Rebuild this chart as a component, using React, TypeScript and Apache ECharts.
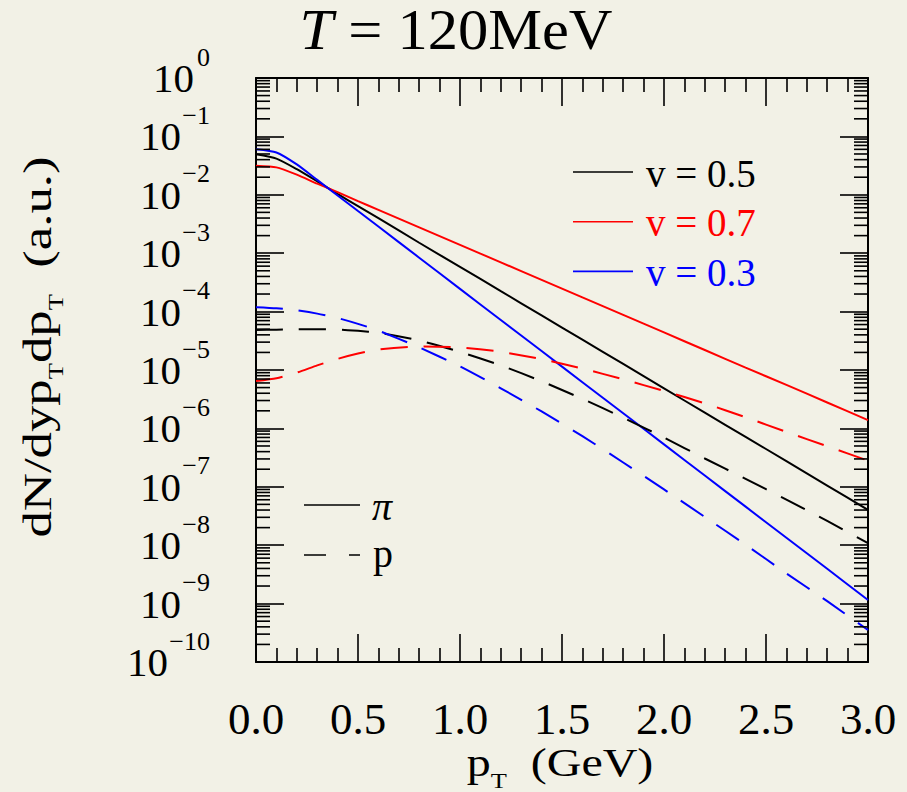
import React, { useEffect, useRef } from "react";
import * as echarts from "echarts";

// transverse momentum grid (GeV)
const pT = [0, 0.1, 0.2, 0.3, 0.4, 0.5, 0.6, 0.8, 1.0, 1.2, 1.4, 1.6, 1.8, 2.0, 2.2, 2.4, 2.6, 2.8, 3.0];

// pions (solid)
const piV05 = [0.0493, 0.0417, 0.0275, 0.0170, 0.01035, 6.41e-3, 3.98e-3, 1.51e-3, 5.85e-4, 2.24e-4, 8.61e-5, 3.31e-5, 1.27e-5, 4.86e-6, 1.86e-6, 7.16e-7, 2.75e-7, 1.05e-7, 4.01e-8];
const piV07 = [0.0315, 0.0295, 0.0221, 0.0155, 0.0111, 7.80e-3, 5.52e-3, 2.77e-3, 1.39e-3, 6.97e-4, 3.49e-4, 1.75e-4, 8.77e-5, 4.40e-5, 2.20e-5, 1.10e-5, 5.55e-6, 2.78e-6, 1.39e-6];
const piV03 = [0.0601, 0.0531, 0.0331, 0.0180, 9.73e-3, 5.27e-3, 2.86e-3, 8.38e-4, 2.45e-4, 7.19e-5, 2.11e-5, 6.18e-6, 1.82e-6, 5.32e-7, 1.56e-7, 4.57e-8, 1.34e-8, 3.94e-9, 1.15e-9];

// protons (dashed)
const pV05 = [4.84e-5, 4.90e-5, 4.96e-5, 4.98e-5, 4.93e-5, 4.68e-5, 4.35e-5, 3.20e-5, 2.04e-5, 1.20e-5, 6.41e-6, 3.20e-6, 1.53e-6, 6.95e-7, 3.05e-7, 1.37e-7, 6.03e-8, 2.60e-8, 1.08e-8];
const pV07 = [6.49e-6, 7.24e-6, 9.02e-6, 1.20e-5, 1.55e-5, 1.91e-5, 2.24e-5, 2.53e-5, 2.43e-5, 2.05e-5, 1.53e-5, 1.06e-5, 6.92e-6, 4.37e-6, 2.69e-6, 1.55e-6, 8.71e-7, 4.95e-7, 2.80e-7];
const pV03 = [1.19e-4, 1.14e-4, 1.05e-4, 9.23e-5, 7.76e-5, 6.17e-5, 4.73e-5, 2.44e-5, 1.15e-5, 4.86e-6, 1.95e-6, 7.36e-7, 2.61e-7, 9.02e-8, 3.05e-8, 1.02e-8, 3.29e-9, 1.10e-9, 3.53e-10];

// axes
const xMin = 0;
const xMax = 3.0;
const xStep = 0.5;
const yDecadeExps = [-10, -9, -8, -7, -6, -5, -4, -3, -2, -1, 0];
const minorMantissas = [2, 3, 4, 5, 6, 7, 8, 9];

const legendV = ["v = 0.5", "v = 0.7", "v = 0.3"];
const legendSpecies = ["π", "p"];

const BG = "#f2f1e6";
const FONT = "'Liberation Serif', 'DejaVu Serif', serif";
const RED = "#ff0000";
const BLUE = "#0000ff";
const BLACK = "#000000";

export default function App() {
  const ref = useRef<HTMLDivElement>(null);

  useEffect(() => {
    if (!ref.current) return;
    const chart = echarts.init(ref.current, undefined, { renderer: "svg" });

    const minorVals: number[][] = [];
    yDecadeExps.slice(0, -1).forEach((e) => {
      minorMantissas.forEach((m) => minorVals.push([0, m * Math.pow(10, e)]));
    });
    const decadeVals = yDecadeExps.map((e) => [0, Math.pow(10, e), e]);

    const mk = (name: string, ys: number[], color: string, dashed: boolean) => ({
      type: "line",
      name,
      data: pT.map((x, i) => [x, ys[i]]),
      symbol: "none",
      showSymbol: false,
      smooth: 0.2,
      silent: true,
      z: 3,
      lineStyle: { color, width: 2, type: dashed ? [27, 16] : "solid" },
    });

    const tickStyle = { color: BLACK, width: 1.6 };

    const xAxisBase = {
      type: "value",
      min: xMin,
      max: xMax,
      interval: xStep,
      axisLine: { show: true, onZero: false, lineStyle: { color: BLACK, width: 2 } },
      axisTick: { show: true, inside: true, length: 28, lineStyle: tickStyle },
      minorTick: { show: true, splitNumber: 5, length: 14, lineStyle: tickStyle },
      splitLine: { show: false },
      minorSplitLine: { show: false },
    };
    const yAxisBase = {
      type: "log",
      logBase: 10,
      min: 1e-10,
      max: 1,
      interval: 1,
      axisLine: { show: true, onZero: false, lineStyle: { color: BLACK, width: 2 } },
      axisTick: { show: true, inside: true, length: 28, lineStyle: tickStyle },
      minorTick: { show: false },
      splitLine: { show: false },
      axisLabel: { show: false },
    };

    const option: any = {
      animation: false,
      backgroundColor: BG,
      grid: { left: 256, right: 39, top: 78, bottom: 130, containLabel: false },
      xAxis: [
        {
          ...xAxisBase,
          position: "bottom",
          axisLabel: {
            show: true,
            margin: 35,
            color: BLACK,
            fontFamily: FONT,
            fontSize: 45,
            lineHeight: 44,
            showMinLabel: true,
            showMaxLabel: true,
            formatter: (v: number) => v.toFixed(1),
          },
        },
        { ...xAxisBase, position: "top", axisLabel: { show: false } },
      ],
      yAxis: [
        { ...yAxisBase, position: "left" },
        { ...yAxisBase, position: "right" },
      ],
      series: [
        mk("pi v=0.5", piV05, BLACK, false),
        mk("pi v=0.7", piV07, RED, false),
        mk("pi v=0.3", piV03, BLUE, false),
        mk("p v=0.5", pV05, BLACK, true),
        mk("p v=0.7", pV07, RED, true),
        mk("p v=0.3", pV03, BLUE, true),
        {
          type: "custom",
          name: "minor log ticks",
          silent: true,
          clip: false,
          z: 5,
          data: minorVals,
          encode: { x: 0, y: 1 },
          renderItem: (params: any, api: any) => {
            const v = api.value(1);
            const l = api.coord([xMin, v]);
            const r = api.coord([xMax, v]);
            return {
              type: "group",
              children: [
                { type: "line", shape: { x1: l[0], y1: l[1], x2: l[0] + 14, y2: l[1] }, style: { stroke: BLACK, lineWidth: 1.6 } },
                { type: "line", shape: { x1: r[0] - 14, y1: r[1], x2: r[0], y2: r[1] }, style: { stroke: BLACK, lineWidth: 1.6 } },
              ],
            };
          },
        },
        {
          type: "custom",
          name: "decade labels",
          silent: true,
          clip: false,
          z: 5,
          data: decadeVals,
          encode: { x: 0, y: 1 },
          renderItem: (params: any, api: any) => {
            const v = api.value(1);
            const e = api.value(2);
            const p = api.coord([xMin, v]);
            const s = e < 0 ? "\u2212" + Math.abs(e) : String(e);
            return {
              type: "group",
              children: [
                {
                  type: "text",
                  x: p[0] - 46,
                  y: p[1] - 21,
                  style: { text: s, fontFamily: FONT, fontSize: 26, fill: BLACK, align: "right", verticalAlign: "middle" },
                },
                {
                  type: "text",
                  x: p[0] - 46 - (s.length * 13 + 3),
                  y: p[1],
                  style: { text: "10", fontFamily: FONT, fontSize: 41, fill: BLACK, align: "right", verticalAlign: "middle" },
                },
              ],
            };
          },
        },
      ],
      graphic: [
        // title
        {
          type: "text",
          x: 456,
          y: 30,
          scaleX: 1.08,
          style: {
            text: "{i|T} = 120MeV",
            fontFamily: FONT,
            fontSize: 56,
            fill: BLACK,
            align: "center",
            verticalAlign: "middle",
            rich: { i: { fontFamily: FONT, fontSize: 56, fontStyle: "italic", fill: BLACK } },
          },
        },
        // y axis title
        {
          type: "text",
          x: 37,
          y: 347,
          rotation: Math.PI / 2,
          scaleX: 1.32,
          style: {
            text: "dN/dyp{s|T}dp{s|T}  (a.u.)",
            fontFamily: FONT,
            fontSize: 40,
            lineHeight: 40,
            fill: BLACK,
            align: "center",
            verticalAlign: "middle",
            rich: { s: { fontFamily: FONT, fontSize: 20, lineHeight: 16, padding: [38, 0, 0, 0], fill: BLACK } },
          },
        },
        // x axis title
        {
          type: "text",
          x: 560,
          y: 763,
          scaleX: 1.2,
          style: {
            text: "p{s|T}  (GeV)",
            fontFamily: FONT,
            fontSize: 40,
            lineHeight: 40,
            fill: BLACK,
            align: "center",
            verticalAlign: "middle",
            rich: { s: { fontFamily: FONT, fontSize: 22, lineHeight: 18, padding: [34, 0, 0, 0], fill: BLACK } },
          },
        },
        // velocity legend
        ...[BLACK, RED, BLUE].flatMap((c, i) => [
          { type: "line", shape: { x1: 573, y1: 172 + i * 49.7, x2: 633, y2: 172 + i * 49.7 }, style: { stroke: c, lineWidth: 1.6 } },
          {
            type: "text",
            x: 646,
            y: 173 + i * 49.7,
            style: { text: legendV[i], fontFamily: FONT, fontSize: 39, fill: c, verticalAlign: "middle" },
          },
        ]),
        // species legend
        { type: "line", shape: { x1: 304, y1: 505, x2: 360, y2: 505 }, style: { stroke: BLACK, lineWidth: 1.6 } },
        { type: "text", x: 372, y: 506, style: { text: legendSpecies[0], fontFamily: FONT, fontSize: 40, fontStyle: "italic", fill: BLACK, verticalAlign: "middle" } },
        { type: "line", shape: { x1: 304, y1: 555, x2: 360, y2: 555 }, style: { stroke: BLACK, lineWidth: 1.6, lineDash: [22, 23] } },
        { type: "text", x: 373, y: 553, style: { text: legendSpecies[1], fontFamily: FONT, fontSize: 40, fill: BLACK, verticalAlign: "middle" } },
      ],
    };

    chart.setOption(option);
    return () => chart.dispose();
  }, []);

  return (
    <div
      ref={ref}
      style={{ position: "fixed", left: 0, top: 0, width: 907, height: 792, background: BG }}
    />
  );
}
